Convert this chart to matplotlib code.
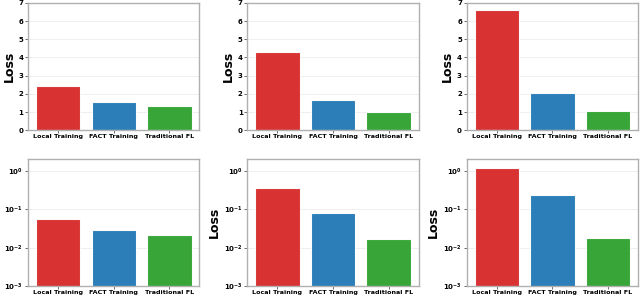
import matplotlib.pyplot as plt

methods = ["Local Training", "FACT Training", "Traditional FL"]
colors = ["#d62728", "#1f77b4", "#2ca02c"]

# top row: linear loss, bottom row: log loss
linear_losses = [
    [2.45, 1.55, 1.32],
    [4.30, 1.65, 1.02],
    [6.60, 2.07, 1.03],
]
log_losses = [
    [0.057, 0.0285, 0.0216],
    [0.357, 0.080, 0.0166],
    [1.20, 0.24, 0.0177],
]
linear_ticks = [0, 1, 2, 3, 4, 5, 6, 7]

plt.rcParams['font.family'] = 'DejaVu Sans'
plt.rcParams['font.weight'] = 'bold'

fig, axes = plt.subplots(2, 3, figsize=(6.4, 2.97), dpi=100)
plt.subplots_adjust(left=0.044, right=0.997, top=0.99, bottom=0.036,
                    wspace=0.28, hspace=0.227)


def style_axis(ax):
    for s in ax.spines.values():
        s.set_color('#b0b0b0')
        s.set_linewidth(1.0)
    ax.tick_params(axis='y', labelsize=5.0, length=2, width=0.6,
                   color='#555555', pad=1.5)
    ax.tick_params(axis='x', labelsize=4.6, length=2, width=0.6,
                   color='#555555', pad=1.0)
    ax.tick_params(axis='y', which='minor', length=0)
    ax.set_ylabel("Loss", fontsize=9, fontweight='bold', labelpad=2)
    ax.grid(axis='y', color='#ececec', linewidth=0.6)
    ax.set_axisbelow(True)
    for lab in ax.get_xticklabels() + ax.get_yticklabels():
        lab.set_fontweight('bold')


for i in range(3):
    ax = axes[0, i]
    ax.bar(methods, linear_losses[i], color=colors, width=0.8,
           edgecolor='white', linewidth=0.8, alpha=0.95)
    ax.set_ylim(0, 7)
    ax.set_yticks(linear_ticks)
    style_axis(ax)

    ax = axes[1, i]
    ax.bar(methods, log_losses[i], color=colors, width=0.8,
           edgecolor='white', linewidth=0.8, alpha=0.95)
    ax.set_yscale('log')
    ax.set_ylim(1e-3, 2)
    ax.set_yticks([1e-3, 1e-2, 1e-1, 1e0])
    style_axis(ax)

fig.savefig("out.png", dpi=100)
